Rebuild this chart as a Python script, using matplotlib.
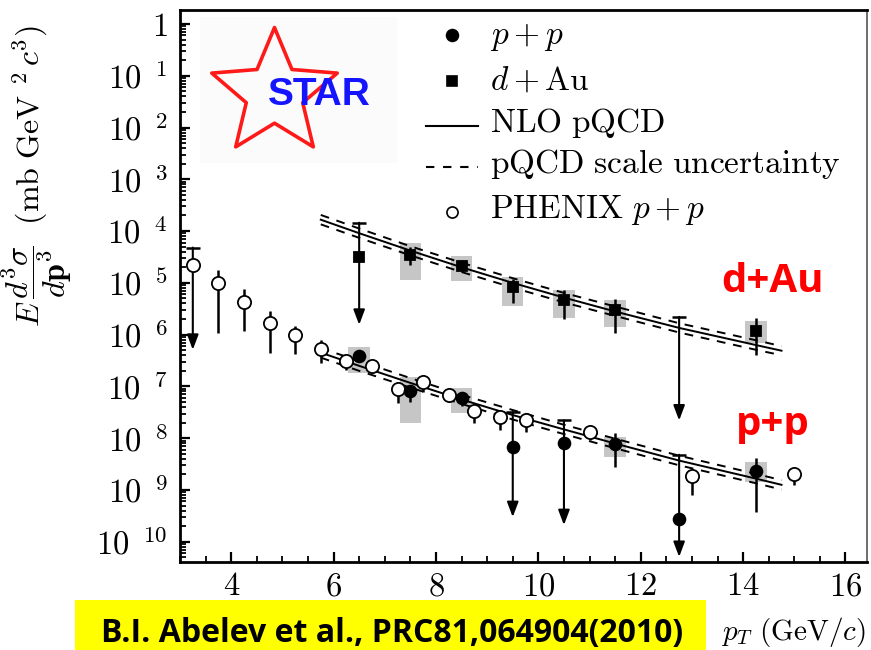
import numpy as np
import matplotlib
matplotlib.use('Agg')
import matplotlib.pyplot as plt
from matplotlib.path import Path
from matplotlib.ticker import LogLocator, FuncFormatter, MultipleLocator
from matplotlib.patches import Rectangle
from matplotlib.lines import Line2D

plt.rcParams['mathtext.fontset'] = 'cm'
plt.rcParams['font.family'] = ['DejaVu Serif']

nan = np.nan

# STAR p+p (pi0)
pp_x = [6.5, 7.5, 8.5, 9.5, 10.5, 11.5, 12.75, 14.25]
pp_y = [3.9e-7, 8.3e-8, 6.0e-8, 6.8e-9, 8.1e-9, 7.8e-9, 2.8e-10, 2.3e-9]
pp_hi = [4.9e-7, 1.07e-7, 7.9e-8, 3.2e-8, 2.2e-8, 1.26e-8, 4.8e-9, 4.2e-9]
pp_lo = [3.1e-7, 5.0e-8, 4.1e-8, 3.0e-10, 2.1e-10, 2.8e-9, 5.1e-11, 3.8e-10]
pp_arrow = [False, False, False, True, True, False, True, False]
pp_sys_hi = [5.8e-7, 1.5e-7, 9.4e-8, nan, nan, 1.07e-8, nan, 3.4e-9]
pp_sys_lo = [1.8e-7, 2.0e-8, 3.1e-8, nan, nan, 4.4e-9, nan, 1.4e-9]

# STAR d+Au
dau_x = [6.5, 7.5, 8.5, 9.5, 10.5, 11.5, 12.75, 14.25]
dau_y = [3.2e-5, 3.5e-5, 2.1e-5, 8.3e-6, 4.7e-6, 3.0e-6, nan, 1.2e-6]
dau_hi = [1.45e-4, 4.9e-5, 2.8e-5, 1.2e-5, 7.3e-6, 4.9e-6, 2.2e-6, 2.1e-6]
dau_lo = [1.55e-6, 2.2e-5, 1.6e-5, 4.1e-6, 2.0e-6, 1.07e-6, 2.2e-8, 4.1e-7]
dau_arrow = [True, False, False, False, False, False, True, False]
dau_sys_hi = [nan, 5.9e-5, 3.3e-5, 1.3e-5, 7.3e-6, 4.7e-6, nan, 1.8e-6]
dau_sys_lo = [nan, 1.15e-5, 1.1e-5, 3.5e-6, 2.1e-6, 1.4e-6, nan, 6.9e-7]

# PHENIX p+p
phx_x = [3.25, 3.75, 4.25, 4.75, 5.25, 5.75, 6.25, 6.75, 7.25, 7.75, 8.25,
         8.75, 9.25, 9.75, 11.0, 13.0, 15.0]
phx_y = [2.2e-5, 1.0e-5, 4.3e-6, 1.7e-6, 1.0e-6, 5.4e-7, 3.1e-7, 2.5e-7, 8.9e-8,
         1.2e-7, 6.9e-8, 3.4e-8, 2.6e-8, 2.2e-8, 1.3e-8, 1.9e-9, 2.0e-9]
phx_hi = [4.8e-5, 1.8e-5, 7.6e-6, 2.9e-6, 1.5e-6, 7.9e-7, 4.1e-7, 3.1e-7, 1.2e-7,
          1.35e-7, 8.9e-8, 4.1e-8, 3.4e-8, 2.8e-8, 1.45e-8, 2.5e-9, 2.7e-9]
phx_lo = [5.1e-7, 1.07e-6, 1.2e-6, 4.5e-7, 4.3e-7, 2.8e-7, 2.1e-7, 1.8e-7, 4.8e-8,
          7.9e-8, 5.0e-8, 2.0e-8, 1.45e-8, 1.3e-8, 9.3e-9, 8.1e-10, 1.26e-9]
phx_arrow = [True] + [False] * 16

# NLO pQCD curves and scale uncertainty
nlo_x = [5.75, 6.5, 7.5, 8.5, 9.5, 10.5, 11.5, 12.75, 14.25, 14.75]
nlo_pp = [4.5e-7, 2.5e-7, 1.17e-7, 5.6e-8, 2.8e-8, 1.48e-8, 7.9e-9, 3.7e-9, 1.66e-9, 1.26e-9]
nlo_pp_up = [5.5e-7, 3.1e-7, 1.45e-7, 6.9e-8, 3.5e-8, 1.82e-8, 9.8e-9, 4.6e-9, 2.05e-9, 1.55e-9]
nlo_pp_dn = [3.6e-7, 2.0e-7, 9.5e-8, 4.6e-8, 2.3e-8, 1.2e-8, 6.4e-9, 3.0e-9, 1.35e-9, 1.02e-9]
nlo_dau = [1.66e-4, 9.1e-5, 4.2e-5, 2.0e-5, 1.0e-5, 5.2e-6, 2.8e-6, 1.35e-6, 6.3e-7, 4.9e-7]
nlo_dau_up = [2.05e-4, 1.12e-4, 5.1e-5, 2.45e-5, 1.23e-5, 6.4e-6, 3.5e-6, 1.66e-6, 7.8e-7, 6.0e-7]
nlo_dau_dn = [1.35e-4, 7.4e-5, 3.4e-5, 1.62e-5, 8.1e-6, 4.2e-6, 2.3e-6, 1.1e-6, 5.1e-7, 4.0e-7]

W, H = 871, 650
fig = plt.figure(figsize=(W / 100, H / 100), dpi=100)
ax = fig.add_axes([180 / W, 1 - 562 / H, 687 / W, 552 / H])
ax.set_yscale('log')
ax.set_xlim(3.0, 16.42)
ax.set_ylim(4.07e-11, 1.86)

gray = '#c6c6c6'
dash = (0, (4.5, 4.0))

# model curves
for c, up, dn in [(nlo_pp, nlo_pp_up, nlo_pp_dn), (nlo_dau, nlo_dau_up, nlo_dau_dn)]:
    ax.plot(nlo_x, c, color='k', lw=1.4, zorder=2)
    ax.plot(nlo_x, up, color='k', lw=1.4, ls=dash, zorder=2)
    ax.plot(nlo_x, dn, color='k', lw=1.4, ls=dash, zorder=2)


def draw_set(x, y, hi, lo, arrow, marker, ms, mfc, sys_hi=None, sys_lo=None):
    x = np.array(x)
    y, hi, lo = np.array(y), np.array(hi), np.array(lo)
    arrow = np.array(arrow)
    if sys_hi is not None:
        sh, sl = np.array(sys_hi), np.array(sys_lo)
        ok = ~np.isnan(sh)
        ax.bar(x[ok], sh[ok] - sl[ok], bottom=sl[ok], width=0.42, color=gray,
               zorder=1, linewidth=0)
    # plain error bars
    ax.vlines(x[~arrow], lo[~arrow], hi[~arrow], color='k', lw=1.8, zorder=3)
    # upper limits drawn as arrows with a cap on top
    for xi, h, l in zip(x[arrow], hi[arrow], lo[arrow]):
        ax.annotate('', xy=(xi, l), xytext=(xi, h),
                    arrowprops=dict(arrowstyle='-|>,head_width=0.17,head_length=0.45',
                                    color='k', lw=1.5, shrinkA=0, shrinkB=0,
                                    mutation_scale=20), zorder=3)
    ax.plot(x[arrow], hi[arrow], ls='none', marker='_', ms=10, mew=1.8, color='k', zorder=3)
    ax.plot(x, y, ls='none', marker=marker, ms=ms, mfc=mfc, mec='k', mew=1.3, zorder=4)


draw_set(phx_x, phx_y, phx_hi, phx_lo, phx_arrow, 'o', 9.5, 'white')
draw_set(pp_x, pp_y, pp_hi, pp_lo, pp_arrow, 'o', 8.5, 'k', pp_sys_hi, pp_sys_lo)
draw_set(dau_x, dau_y, dau_hi, dau_lo, dau_arrow, 's', 7.5, 'k', dau_sys_hi, dau_sys_lo)

# axes styling
ax.xaxis.set_major_locator(MultipleLocator(2))
ax.xaxis.set_minor_locator(MultipleLocator(0.5))
ax.yaxis.set_major_locator(LogLocator(base=10, numticks=30))
ax.yaxis.set_minor_locator(LogLocator(base=10, subs=np.arange(2, 10), numticks=30))


def ylab(v, pos):
    e = int(round(np.log10(v)))
    if e == 0:
        return r'$1$'
    return r'$10^{\enspace\,%d}$' % (-e)


ax.yaxis.set_major_formatter(FuncFormatter(ylab))
ax.yaxis.set_minor_formatter(FuncFormatter(lambda v, p: ''))
ax.xaxis.set_major_formatter(FuncFormatter(lambda v, p: r'$%d$' % v))
ax.tick_params(which='both', direction='in', top=False, right=False)
ax.tick_params(which='major', length=7.5, width=1.6, labelsize=23.5)
ax.tick_params(which='minor', length=4, width=1.3)
ax.tick_params(axis='y', which='major', pad=9)
ax.tick_params(axis='x', which='major', pad=6)
for s in ['left', 'top', 'bottom']:
    ax.spines[s].set_linewidth(2.0)
ax.spines['right'].set_linewidth(1.2)
ax.spines['right'].set_color('#555555')

ax.set_ylabel(r'$E\,\dfrac{d^3\sigma}{d\mathbf{p}^3}\ \ (\mathrm{mb\ GeV}^{\enspace 2}\,c^{3})$',
              fontsize=23)
ax.yaxis.set_label_coords((74 - 180) / 687, (562 - 176) / 552)

# legend, drawn by hand
def fx(px):
    return px / W


def fy(py):
    return 1 - py / H


leg_labels = [r'$p+p$', r'$d+\mathrm{Au}$', r'$\mathrm{NLO\ pQCD}$',
              r'$\mathrm{pQCD\ scale\ uncertainty}$', r'$\mathrm{PHENIX}\ p+p$']
leg_mark = [35, 81, 126, 167, 212]
leg_base = [44, 90, 132, 173, 218]
handles = [dict(marker='o', ms=8.5, mfc='k', ls='none'),
           dict(marker='s', ms=7.5, mfc='k', ls='none'),
           dict(ls='-'),
           dict(ls=(0, (4.0, 4.2))),
           dict(marker='o', ms=8, mfc='white', ls='none')]
for lab, ym, yb, h in zip(leg_labels, leg_mark, leg_base, handles):
    if h.get('marker'):
        fig.add_artist(Line2D([fx(452)], [fy(ym)], color='k', mec='k', mew=1.2, **h))
    else:
        fig.add_artist(Line2D([fx(426), fx(478)], [fy(ym), fy(ym)], color='k', lw=1.5, **h))
    fig.text(fx(490), fy(yb), lab, fontsize=24, va='baseline', ha='left')

# STAR logo
fig.add_artist(Rectangle((fx(200), fy(163)), (397 - 200) / W, (163 - 17) / H,
                         transform=fig.transFigure, facecolor='#fbfbfb', edgecolor='none'))
star = Path.unit_regular_star(5, 0.45)
fig.add_artist(Line2D([fx(274)], [fy(93)], marker=star, ms=95, mfc='none', mec='#ff1a1a',
                      mew=2.6, ls='none'))
fig.text(fx(319), fy(95), 'STAR', color='#1414ff', fontsize=28, fontweight='bold',
         family='Liberation Sans', ha='center', va='center')

# red annotations
fig.text(fx(772), fy(281), 'd+Au', color='#ff0000', fontsize=29, fontweight='bold',
         family='Open Sans', ha='center', va='center')
fig.text(fx(773), fy(425), 'p+p', color='#ff0000', fontsize=29, fontweight='bold',
         family='Open Sans', ha='center', va='center')

# citation box and x label
fig.add_artist(Rectangle((fx(75), 0), (706 - 75) / W, 50 / H, transform=fig.transFigure,
                         facecolor='#ffff00', edgecolor='none'))
fig.text(fx(392), fy(642), 'B.I. Abelev et al., PRC81,064904(2010)', fontsize=23,
         fontweight='bold', family='Open Sans', ha='center', va='baseline')
fig.text(fx(793), fy(640), r'$p_T\ (\mathrm{GeV}/c)$', fontsize=21, ha='center', va='baseline')

fig.savefig('out.png', dpi=100)
